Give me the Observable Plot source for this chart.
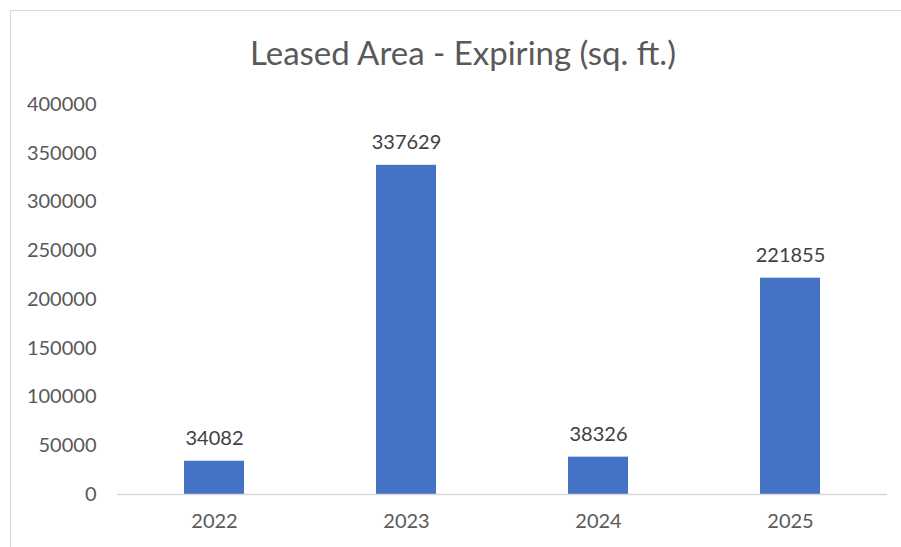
<!DOCTYPE html>
<html>
<head>
<meta charset="utf-8">
<script src="https://cdn.jsdelivr.net/npm/d3@7"></script>
<script src="https://cdn.jsdelivr.net/npm/@observablehq/plot@0.6"></script>
<style>
  html, body { margin: 0; padding: 0; background: #fff; }
  body { width: 901px; height: 547px; position: relative; overflow: hidden; font-family: Lato, "Open Sans", sans-serif; }
  #frame { position: absolute; left: 10px; top: 10px; width: 1000px; height: 1000px; border: 1px solid #d9d9d9; box-sizing: border-box; }
  #title { position: absolute; left: 0; width: 926px; top: 32px; text-align: center; font-size: 33px; color: #595959; line-height: 40px; }
  #chart { position: absolute; left: 0; top: 80px; }
</style>
</head>
<body>
<div id="frame"></div>
<div id="title">Leased Area - Expiring (sq. ft.)</div>
<div id="chart"></div>
<script>
const years = ["2022", "2023", "2024", "2025"];
const values = [34082, 337629, 38326, 221855];
const yTicks = [0, 50000, 100000, 150000, 200000, 250000, 300000, 350000, 400000];

const data = years.map((y, i) => ({year: y, value: values[i]}));

const chart = Plot.plot({
  width: 901,
  height: 467,
  marginLeft: 117,
  marginRight: 14,
  marginTop: 24,
  marginBottom: 53,
  style: {fontFamily: "Lato, 'Open Sans', sans-serif", fontSize: "20px", color: "#595959", background: "transparent"},
  x: {domain: years, paddingInner: 0.69, paddingOuter: 0.345, label: null},
  y: {domain: [0, 400000], label: null},
  marks: [
    Plot.barY(data, {x: "year", y: "value", fill: "#4472C4"}),
    Plot.ruleY([0], {stroke: "#d9d9d9", strokeWidth: 1.5}),
    Plot.axisY({ticks: yTicks, tickSize: 0, tickPadding: 21, tickFormat: d => String(d), label: null, fill: "#595959"}),
    Plot.axisX({tickSize: 0, tickPadding: 19, label: null, fill: "#595959"}),
    Plot.text(data, {x: "year", y: "value", text: d => String(d.value), dy: -23, fill: "#404040", fontSize: 20})
  ]
});
document.getElementById("chart").appendChild(chart);
</script>
</body>
</html>
